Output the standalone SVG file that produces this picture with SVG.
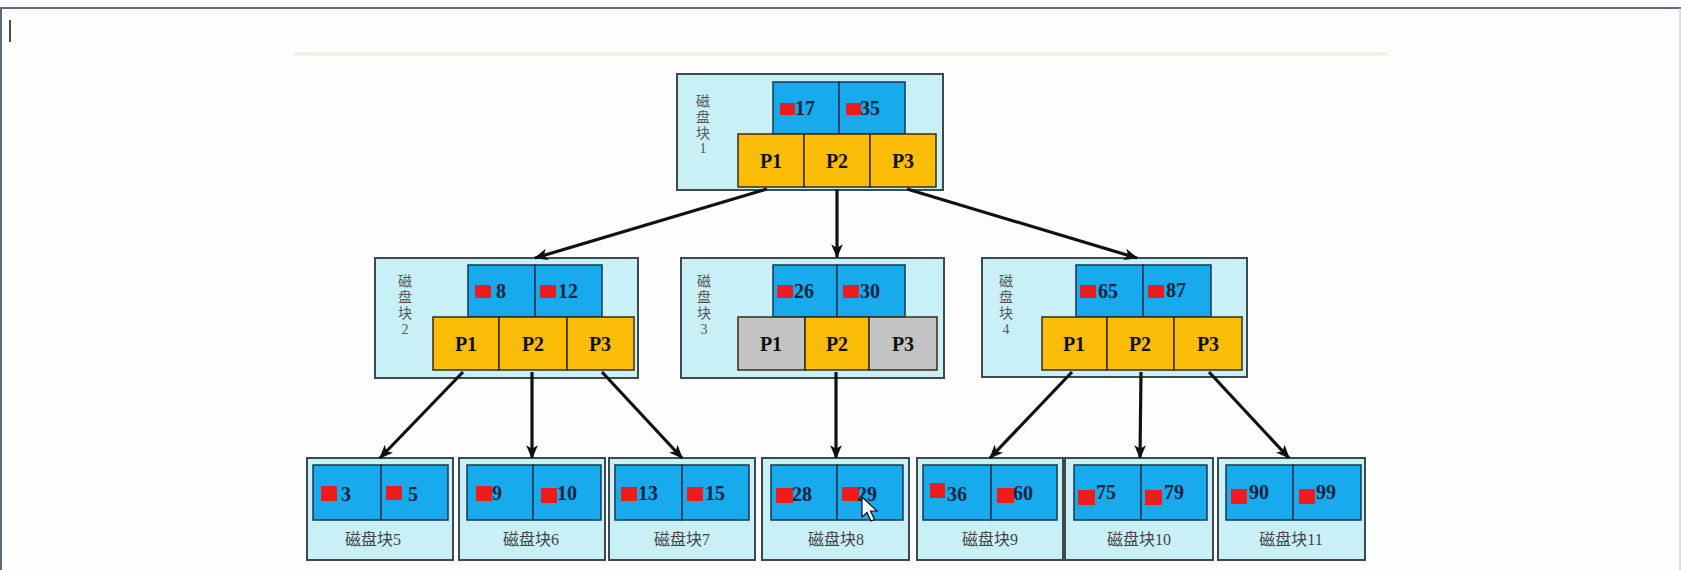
<svg xmlns="http://www.w3.org/2000/svg" width="1681" height="570" viewBox="0 0 1681 570">
<defs>
<style>
.frame{fill:#c9f0f7;stroke:#3c4a4e;stroke-width:2}
.key{fill:#17aaec;stroke:#1c3550;stroke-width:1.5}
.ptr{fill:#fbbd08;stroke:#3a2a10;stroke-width:1.5}
.ptrg{fill:#c3c3c3;stroke:#3a2a10;stroke-width:1.5}
.red{fill:#ee1c1c}
.num{font-family:"Liberation Serif","Times New Roman",serif;font-weight:bold;font-size:20px;fill:#12243f}
.pl{font-family:"Liberation Serif","Times New Roman",serif;font-weight:bold;font-size:20px;fill:#111;text-anchor:middle}
.vl{font-family:"Liberation Serif","Noto Sans CJK SC",serif;font-size:14px;fill:#555;text-anchor:middle}
.ll{font-family:"Liberation Serif","Noto Sans CJK SC",serif;font-size:16px;fill:#444;text-anchor:middle}
.edge{stroke:#111;stroke-width:3.2;fill:none;marker-end:url(#ah)}
</style>
<marker id="ah" viewBox="0 0 12 10" refX="11" refY="5" markerWidth="14" markerHeight="12" markerUnits="userSpaceOnUse" orient="auto">
<path d="M0,0 L12,5 L0,10 L3,5 Z" fill="#111"/>
</marker>
</defs>
<rect width="1681" height="570" fill="#fdfdfd"/>
<line x1="0" y1="8" x2="1681" y2="8" stroke="#5a6a80" stroke-width="2"/>
<line x1="1" y1="8" x2="1" y2="570" stroke="#5a6a80" stroke-width="2"/>
<line x1="1680" y1="8" x2="1680" y2="570" stroke="#b8bec8" stroke-width="1"/>
<line x1="10" y1="20" x2="10" y2="42" stroke="#111" stroke-width="1.5"/>
<line x1="293" y1="54" x2="1388" y2="54" stroke="#efefdc" stroke-width="3"/>

<g id="node1">
<rect class="frame" x="677" y="74" width="266" height="116"/>
<rect class="key" x="773" y="82" width="66" height="52"/>
<rect class="key" x="839" y="82" width="66" height="52"/>
<rect class="ptr" x="738" y="134" width="66" height="53"/>
<rect class="ptr" x="804" y="134" width="66" height="53"/>
<rect class="ptr" x="870" y="134" width="66" height="53"/>
<rect class="red" x="780" y="103" width="15" height="12"/>
<text class="num" x="795" y="115">17</text>
<rect class="red" x="846" y="103" width="15" height="12"/>
<text class="num" x="860" y="115">35</text>
<text class="pl" x="771" y="168">P1</text>
<text class="pl" x="837" y="168">P2</text>
<text class="pl" x="903" y="168">P3</text>
<text class="vl" x="703" y="106">磁</text>
<text class="vl" x="703" y="122">盘</text>
<text class="vl" x="703" y="138">块</text>
<text class="vl" x="703" y="153">1</text>
</g>

<g id="node2">
<rect class="frame" x="375" y="258" width="263" height="120"/>
<rect class="key" x="468" y="265" width="67" height="52"/>
<rect class="key" x="535" y="265" width="67" height="52"/>
<rect class="ptr" x="433" y="317" width="66" height="53"/>
<rect class="ptr" x="499" y="317" width="68" height="53"/>
<rect class="ptr" x="567" y="317" width="67" height="53"/>
<rect class="red" x="475" y="285" width="16" height="13"/>
<text class="num" x="496" y="298">8</text>
<rect class="red" x="540" y="285" width="16" height="13"/>
<text class="num" x="558" y="298">12</text>
<text class="pl" x="466" y="351">P1</text>
<text class="pl" x="533" y="351">P2</text>
<text class="pl" x="600" y="351">P3</text>
<text class="vl" x="405" y="286">磁</text>
<text class="vl" x="405" y="302">盘</text>
<text class="vl" x="405" y="318">块</text>
<text class="vl" x="405" y="334">2</text>
</g>

<g id="node3">
<rect class="frame" x="681" y="258" width="263" height="120"/>
<rect class="key" x="773" y="265" width="64" height="52"/>
<rect class="key" x="837" y="265" width="68" height="52"/>
<rect class="ptrg" x="738" y="317" width="67" height="53"/>
<rect class="ptr" x="805" y="317" width="64" height="53"/>
<rect class="ptrg" x="869" y="317" width="68" height="53"/>
<rect class="red" x="777" y="285" width="16" height="13"/>
<text class="num" x="794" y="298">26</text>
<rect class="red" x="843" y="285" width="16" height="13"/>
<text class="num" x="860" y="298">30</text>
<text class="pl" x="771" y="351">P1</text>
<text class="pl" x="837" y="351">P2</text>
<text class="pl" x="903" y="351">P3</text>
<text class="vl" x="704" y="286">磁</text>
<text class="vl" x="704" y="302">盘</text>
<text class="vl" x="704" y="318">块</text>
<text class="vl" x="704" y="334">3</text>
</g>

<g id="node4">
<rect class="frame" x="982" y="258" width="265" height="119"/>
<rect class="key" x="1076" y="265" width="67" height="52"/>
<rect class="key" x="1143" y="265" width="68" height="52"/>
<rect class="ptr" x="1042" y="317" width="65" height="53"/>
<rect class="ptr" x="1107" y="317" width="67" height="53"/>
<rect class="ptr" x="1174" y="317" width="68" height="53"/>
<rect class="red" x="1080" y="285" width="16" height="13"/>
<text class="num" x="1098" y="298">65</text>
<rect class="red" x="1148" y="285" width="16" height="13"/>
<text class="num" x="1166" y="297">87</text>
<text class="pl" x="1074" y="351">P1</text>
<text class="pl" x="1140" y="351">P2</text>
<text class="pl" x="1208" y="351">P3</text>
<text class="vl" x="1006" y="286">磁</text>
<text class="vl" x="1006" y="302">盘</text>
<text class="vl" x="1006" y="318">块</text>
<text class="vl" x="1006" y="334">4</text>
</g>

<g id="node5">
<rect class="frame" x="307" y="458" width="146" height="102"/>
<rect class="key" x="313" y="465" width="68" height="55"/>
<rect class="key" x="381" y="465" width="67" height="55"/>
<rect class="red" x="321" y="486" width="16" height="15"/>
<text class="num" x="341" y="501">3</text>
<rect class="red" x="386" y="486" width="16" height="14"/>
<text class="num" x="408" y="501">5</text>
<text class="ll" x="373" y="545">磁盘块5</text>
</g>

<g id="node6">
<rect class="frame" x="459" y="458" width="146" height="102"/>
<rect class="key" x="467" y="465" width="66" height="55"/>
<rect class="key" x="533" y="465" width="68" height="55"/>
<rect class="red" x="476" y="486" width="16" height="15"/>
<text class="num" x="492" y="500">9</text>
<rect class="red" x="541" y="488" width="16" height="15"/>
<text class="num" x="557" y="500">10</text>
<text class="ll" x="531" y="545">磁盘块6</text>
</g>

<g id="node7">
<rect class="frame" x="609" y="458" width="146" height="102"/>
<rect class="key" x="615" y="465" width="67" height="55"/>
<rect class="key" x="682" y="465" width="67" height="55"/>
<rect class="red" x="621" y="487" width="16" height="14"/>
<text class="num" x="638" y="500">13</text>
<rect class="red" x="687" y="487" width="16" height="14"/>
<text class="num" x="705" y="500">15</text>
<text class="ll" x="682" y="545">磁盘块7</text>
</g>

<g id="node8">
<rect class="frame" x="762" y="458" width="147" height="102"/>
<rect class="key" x="771" y="465" width="66" height="55"/>
<rect class="key" x="837" y="465" width="66" height="55"/>
<rect class="red" x="776" y="488" width="17" height="15"/>
<text class="num" x="792" y="501">28</text>
<rect class="red" x="842" y="487" width="17" height="14"/>
<text class="num" x="857" y="501">29</text>
<text class="ll" x="836" y="545">磁盘块8</text>
</g>

<g id="node9">
<rect class="frame" x="917" y="458" width="146" height="102"/>
<rect class="key" x="923" y="465" width="68" height="55"/>
<rect class="key" x="991" y="465" width="66" height="55"/>
<rect class="red" x="930" y="483" width="15" height="15"/>
<text class="num" x="947" y="501">36</text>
<rect class="red" x="997" y="488" width="17" height="15"/>
<text class="num" x="1013" y="500">60</text>
<text class="ll" x="990" y="545">磁盘块9</text>
</g>

<g id="node10">
<rect class="frame" x="1065" y="458" width="148" height="102"/>
<rect class="key" x="1074" y="465" width="67" height="55"/>
<rect class="key" x="1141" y="465" width="66" height="55"/>
<rect class="red" x="1078" y="490" width="17" height="15"/>
<text class="num" x="1096" y="499">75</text>
<rect class="red" x="1145" y="490" width="17" height="15"/>
<text class="num" x="1164" y="499">79</text>
<text class="ll" x="1139" y="545">磁盘块10</text>
</g>

<g id="node11">
<rect class="frame" x="1218" y="458" width="147" height="102"/>
<rect class="key" x="1226" y="465" width="67" height="55"/>
<rect class="key" x="1293" y="465" width="68" height="55"/>
<rect class="red" x="1231" y="489" width="16" height="15"/>
<text class="num" x="1249" y="499">90</text>
<rect class="red" x="1299" y="489" width="16" height="15"/>
<text class="num" x="1316" y="499">99</text>
<text class="ll" x="1291" y="545">磁盘块11</text>
</g>

<g id="connectors">
<line class="edge" x1="767" y1="189" x2="535" y2="258"/>
<line class="edge" x1="837" y1="189" x2="837" y2="257"/>
<line class="edge" x1="907" y1="189" x2="1137" y2="258"/>
<line class="edge" x1="463" y1="372" x2="380" y2="458"/>
<line class="edge" x1="532" y1="372" x2="532" y2="458"/>
<line class="edge" x1="602" y1="372" x2="682" y2="458"/>
<line class="edge" x1="836" y1="372" x2="836" y2="458"/>
<line class="edge" x1="1072" y1="372" x2="990" y2="458"/>
<line class="edge" x1="1141" y1="372" x2="1140" y2="458"/>
<line class="edge" x1="1209" y1="372" x2="1289" y2="458"/>
</g>

<path d="M862,497 L862,517 L867,512.5 L871,521 L874.5,519.5 L870.5,511 L877,511 Z" fill="#fff" stroke="#111" stroke-width="1.2"/>
</svg>
